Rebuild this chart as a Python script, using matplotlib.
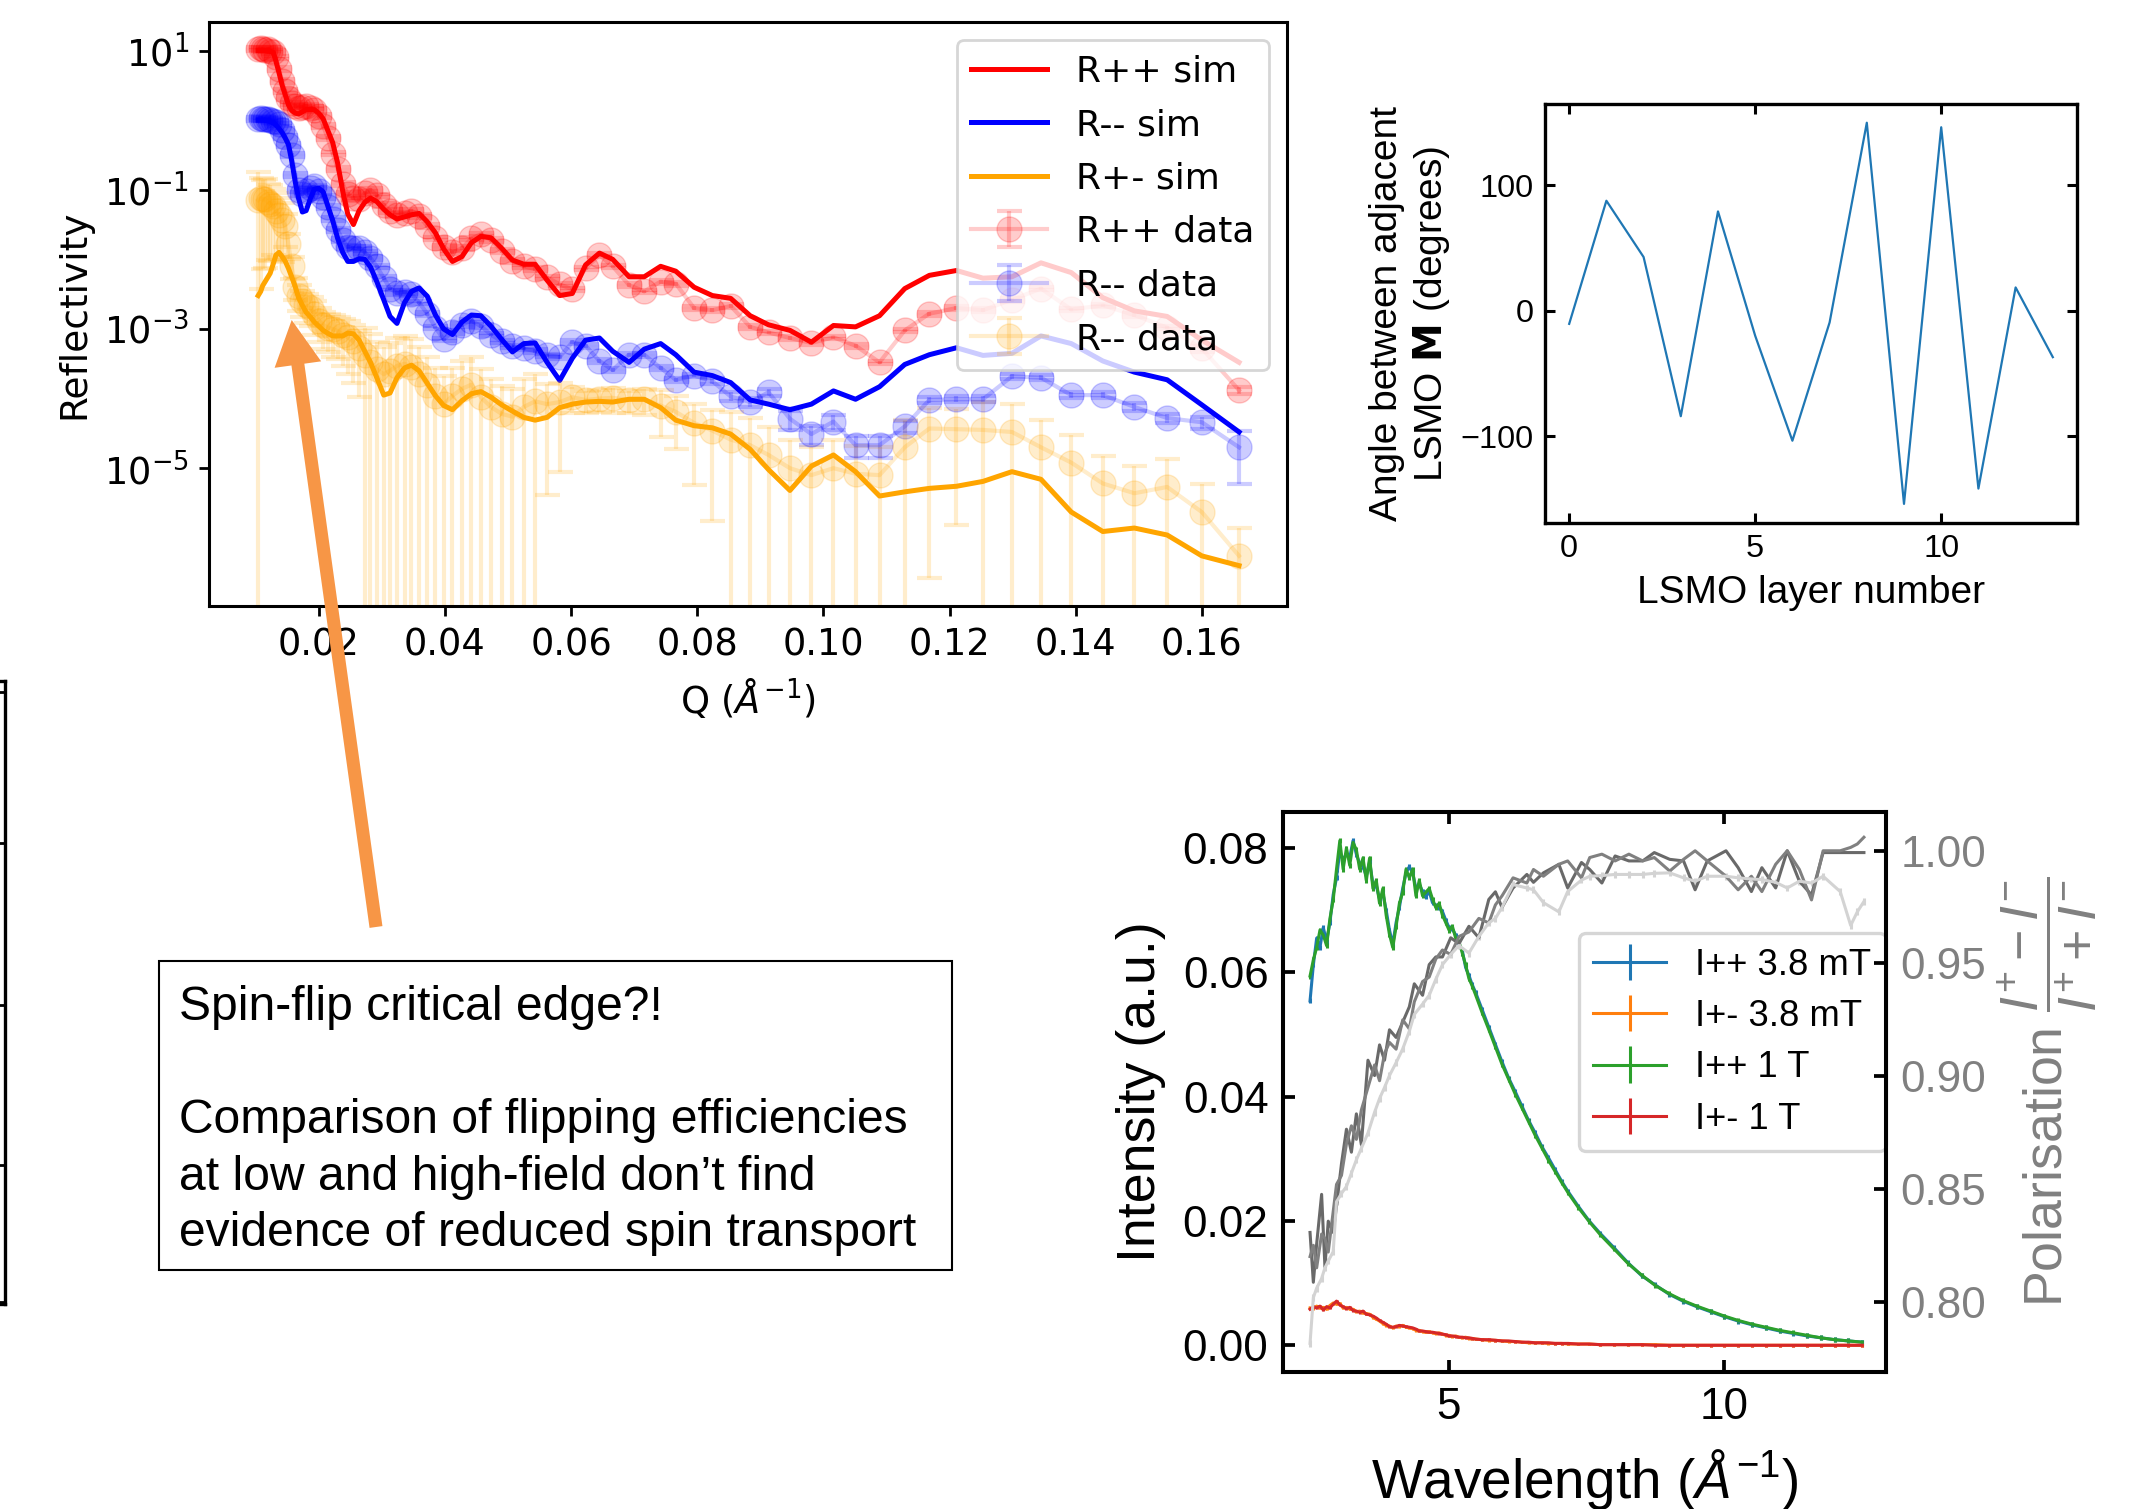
import numpy as np
import matplotlib
matplotlib.use('Agg')
import matplotlib.pyplot as plt
from matplotlib.patches import FancyArrow, Rectangle
from matplotlib.ticker import NullLocator

plt.rcParams['font.family'] = ['Liberation Sans', 'DejaVu Sans']
plt.rcParams['mathtext.fontset'] = 'dejavusans'
plt.rcParams['mathtext.rm'] = 'Liberation Sans'
plt.rcParams['mathtext.it'] = 'Liberation Sans:italic'
plt.rcParams['mathtext.bf'] = 'Liberation Sans:bold'

# ---- reflectivity panel (values are log10 R) ----
q = [0.0104, 0.0108, 0.0111, 0.0115, 0.0119, 0.0123, 0.0128, 0.0132, 0.0137, 0.0142,
     0.0147, 0.0152, 0.0157, 0.0163, 0.0168, 0.0174, 0.0180, 0.0187, 0.0193, 0.0200,
     0.0207, 0.0214, 0.0222, 0.0230, 0.0238, 0.0246, 0.0255, 0.0264, 0.0273, 0.0282,
     0.0292, 0.0303, 0.0313, 0.0324, 0.0336, 0.0347, 0.0359, 0.0372, 0.0385, 0.0398,
     0.0412, 0.0427, 0.0442, 0.0457, 0.0473, 0.0490, 0.0507, 0.0525, 0.0543, 0.0562,
     0.0582, 0.0602, 0.0623, 0.0645, 0.0666, 0.0692, 0.0716, 0.0742, 0.0766, 0.0795,
     0.0824, 0.0853, 0.0884, 0.0913, 0.0947, 0.0981, 0.1016, 0.1051, 0.1089, 0.1129,
     0.1168, 0.1211, 0.1253, 0.1299, 0.1345, 0.1393, 0.1443, 0.1493, 0.1545, 0.1600,
     0.1659]

rpp_sim = [1.00, 1.00, 1.00, 1.00, 0.99, 0.99, 0.97, 0.85, 0.68, 0.50,
           0.36, 0.22, 0.14, 0.10, 0.09, 0.12, 0.15, 0.15, 0.15, 0.10,
           0.02, -0.14, -0.32, -0.62, -1.02, -1.35, -1.50, -1.30, -1.18, -1.12,
           -1.17, -1.28, -1.36, -1.42, -1.39, -1.36, -1.34, -1.46, -1.62, -1.85,
           -2.03, -1.96, -1.76, -1.67, -1.69, -1.84, -2.01, -2.07, -2.07, -2.30,
           -2.52, -2.49, -2.08, -1.91, -2.00, -2.25, -2.25, -2.10, -2.17, -2.40,
           -2.52, -2.56, -2.81, -2.94, -3.02, -3.19, -2.95, -2.97, -2.81, -2.42,
           -2.23, -2.16, -2.27, -2.25, -2.05, -2.19, -2.55, -2.74, -2.82, -3.16,
           -3.48]

rmm_sim = [0.00, 0.00, 0.00, 0.00, -0.01, -0.02, -0.04, -0.07, -0.12, -0.18,
           -0.26, -0.35, -0.58, -0.90, -1.12, -1.32, -1.30, -1.12, -0.99, -0.98,
           -1.03, -1.22, -1.44, -1.70, -1.90, -2.03, -2.03, -1.99, -2.00, -2.11,
           -2.32, -2.58, -2.82, -2.92, -2.62, -2.46, -2.41, -2.53, -2.80, -3.00,
           -3.08, -2.90, -2.80, -2.81, -2.96, -3.15, -3.33, -3.21, -3.20, -3.48,
           -3.74, -3.42, -3.16, -3.13, -3.32, -3.48, -3.29, -3.21, -3.37, -3.62,
           -3.67, -3.77, -4.02, -4.08, -4.16, -4.08, -3.89, -4.01, -3.83, -3.51,
           -3.37, -3.27, -3.38, -3.35, -3.10, -3.21, -3.46, -3.62, -3.73, -4.09,
           -4.48]

rpm_sim = [-2.52, -2.46, -2.38, -2.32, -2.26, -2.20, -2.06, -1.94, -1.90, -1.96,
           -2.03, -2.13, -2.25, -2.40, -2.55, -2.66, -2.76, -2.83, -2.90, -2.96,
           -3.02, -3.06, -3.10, -3.10, -3.10, -3.06, -3.07, -3.16, -3.32, -3.48,
           -3.70, -3.95, -3.92, -3.70, -3.56, -3.52, -3.60, -3.78, -3.96, -4.10,
           -4.16, -4.03, -3.93, -3.90, -3.98, -4.09, -4.18, -4.27, -4.31, -4.27,
           -4.13, -4.08, -4.05, -4.04, -4.05, -4.01, -4.01, -4.13, -4.31, -4.39,
           -4.42, -4.51, -4.73, -5.02, -5.32, -4.97, -4.81, -5.05, -5.40, -5.34,
           -5.29, -5.26, -5.19, -5.05, -5.16, -5.63, -5.91, -5.86, -5.96, -6.26,
           -6.40]

rpp_data = [1.02, 1.03, 1.02, 1.01, 1.02, 1.00, 0.98, 0.90, 0.74, 0.56,
            0.42, 0.32, 0.24, 0.20, 0.18, 0.19, 0.20, 0.18, 0.15, 0.06,
            -0.08, -0.26, -0.48, -0.70, -0.92, -1.06, -1.12, -1.14, -1.05, -1.00,
            -1.08, -1.22, -1.30, -1.36, -1.34, -1.30, -1.38, -1.52, -1.70, -1.82,
            -1.90, -1.84, -1.70, -1.64, -1.72, -1.88, -2.02, -2.10, -2.14, -2.26,
            -2.36, -2.43, -2.13, -1.94, -2.10, -2.37, -2.46, -2.32, -2.35, -2.70,
            -2.73, -2.67, -2.97, -3.05, -3.13, -3.20, -3.12, -3.24, -3.48, -3.02,
            -2.78, -2.70, -2.73, -2.58, -2.42, -2.72, -2.66, -2.80, -2.98, -3.28,
            -3.88]

rmm_data = [0.02, 0.03, 0.02, 0.01, 0.02, 0.00, -0.01, -0.03, -0.06, -0.14,
            -0.24, -0.36, -0.50, -0.79, -1.00, -1.06, -1.02, -0.98, -0.95, -1.02,
            -1.10, -1.25, -1.42, -1.58, -1.72, -1.82, -1.84, -1.83, -1.90, -1.98,
            -2.10, -2.27, -2.42, -2.48, -2.47, -2.50, -2.62, -2.78, -2.98, -3.15,
            -3.04, -2.94, -2.88, -2.96, -3.08, -3.18, -3.25, -3.28, -3.32, -3.38,
            -3.40, -3.19, -3.24, -3.46, -3.59, -3.37, -3.37, -3.56, -3.73, -3.67,
            -3.75, -3.97, -4.05, -3.91, -4.29, -4.51, -4.33, -4.67, -4.67, -4.40,
            -4.02, -4.01, -4.01, -3.68, -3.70, -3.95, -3.95, -4.12, -4.28, -4.34,
            -4.70]

rpm_data = [-1.15, -1.12, -1.14, -1.13, -1.18, -1.20, -1.24, -1.30, -1.36, -1.44,
            -1.52, -1.78, -2.10, -2.40, -2.52, -2.60, -2.66, -2.70, -2.78, -2.88,
            -2.94, -2.98, -3.00, -3.03, -3.08, -3.12, -3.18, -3.28, -3.38, -3.47,
            -3.58, -3.65, -3.60, -3.53, -3.50, -3.54, -3.65, -3.80, -3.96, -4.08,
            -3.96, -3.86, -3.80, -3.98, -4.12, -4.22, -4.26, -4.12, -4.04, -4.08,
            -4.05, -3.98, -4.02, -4.00, -3.99, -4.02, -4.01, -4.10, -4.19, -4.35,
            -4.46, -4.59, -4.67, -4.81, -5.00, -5.10, -5.00, -5.08, -5.10, -4.70,
            -4.43, -4.44, -4.45, -4.48, -4.70, -4.92, -5.22, -5.36, -5.27, -5.63,
            -6.26]

# relative errors (dR / R)
rpp_err = [0.06] * 79 + [0.10, 0.12]
rmm_err = [0.06] * 60 + [0.10, 0.15, 0.15, 0.12, 0.30, 0.30, 0.25, 0.35, 0.35, 0.20,
                         0.10, 0.10, 0.10, 0.08, 0.08, 0.10, 0.10, 0.12, 0.15, 0.20,
                         0.70]
rpm_err = [1.5, 0.95, 0.9, 0.9, 0.85, 0.85, 0.8, 0.8, 0.75, 0.75,
           0.5, 0.4, 0.35, 0.35, 0.4, 0.4, 0.45, 0.45, 0.5, 0.5,
           0.55, 0.55, 0.6, 0.6, 0.65, 0.7, 0.75, 0.8, 1.5, 1.5,
           1.5, 1.5, 1.5, 1.5, 1.5, 1.5, 1.5, 1.5, 1.5, 1.5,
           1.5, 1.5, 1.5, 1.5, 1.5, 1.5, 1.5, 1.5, 1.5, 0.95,
           0.9, 0.4, 0.35, 0.35, 0.4, 0.35, 0.4, 0.65, 0.71, 0.87,
           0.95, 1.5, 1.5, 1.5, 1.5, 1.5, 1.5, 1.5, 1.5, 1.5,
           0.993, 0.958, 1.5, 1.5, 1.5, 1.5, 1.5, 1.5, 1.5, 1.5,
           1.5]

# ---- angle panel ----
layer = [0, 1, 2, 3, 4, 5, 6, 7, 8, 9, 10, 11, 12, 13]
angle = [-10.5, 87.5, 42.7, -84.0, 79.0, -20.0, -103.5, -9.4, 149.6, -153.8,
         146.0, -141.6, 18.5, -37.0]

# ---- intensity / polarisation panel ----
lam = [2.49, 2.55, 2.61, 2.67, 2.73, 2.79, 2.85, 2.91, 2.97, 3.03,
       3.09, 3.15, 3.21, 3.27, 3.33, 3.39, 3.45, 3.51, 3.57, 3.63,
       3.69, 3.75, 3.81, 3.87, 3.93, 3.99, 4.05, 4.11, 4.17, 4.23,
       4.29, 4.35, 4.41, 4.47, 4.53, 4.59, 4.65, 4.71, 4.77, 4.83,
       4.89, 4.95, 5.01, 5.07, 5.13, 5.19, 5.25, 5.31, 5.37, 5.43,
       5.49, 5.61, 5.73, 5.85, 5.97, 6.09, 6.21, 6.33, 6.45, 6.57,
       6.69, 6.81, 6.93, 7.05, 7.17, 7.35, 7.55, 7.75, 8.00, 8.25,
       8.50, 8.75, 9.00, 9.25, 9.50, 9.75, 10.00, 10.25, 10.50, 10.75,
       11.00, 11.25, 11.50, 11.75, 12.00, 12.25, 12.50]

ipp_low = [0.0554, 0.0612, 0.0655, 0.0640, 0.0672, 0.0650, 0.0680, 0.0725, 0.0752, 0.0795,
           0.0780, 0.0792, 0.0785, 0.0812, 0.0790, 0.0775, 0.0770, 0.0755, 0.0778, 0.0742,
           0.0740, 0.0718, 0.0728, 0.0700, 0.0668, 0.0645, 0.0680, 0.0705, 0.0735, 0.0760,
           0.0770, 0.0760, 0.0735, 0.0742, 0.0730, 0.0722, 0.0730, 0.0712, 0.0708, 0.0705,
           0.0698, 0.0684, 0.0672, 0.0670, 0.0660, 0.0645, 0.0635, 0.0608, 0.0595, 0.0580,
           0.0568, 0.0540, 0.0512, 0.0484, 0.0456, 0.0430, 0.0408, 0.0385, 0.0362, 0.0342,
           0.0320, 0.0302, 0.0283, 0.0264, 0.0247, 0.0224, 0.0200, 0.0180, 0.0157, 0.0133,
           0.0112, 0.0097, 0.0082, 0.0071, 0.0062, 0.0054, 0.0046, 0.0039, 0.0033, 0.0028,
           0.0023, 0.0019, 0.0015, 0.0012, 0.0009, 0.0007, 0.0005]

ipm_low = [0.0060, 0.0059, 0.0063, 0.0060, 0.0061, 0.0058, 0.0064, 0.0068, 0.0066, 0.0067,
           0.0060, 0.0061, 0.0058, 0.0058, 0.0054, 0.0055, 0.0052, 0.0051, 0.0050, 0.0045,
           0.0042, 0.0039, 0.0035, 0.0032, 0.0031, 0.0028, 0.0031, 0.0030, 0.0032, 0.0029,
           0.0028, 0.0027, 0.0024, 0.0024, 0.0022, 0.0021, 0.0022, 0.0020, 0.0019, 0.0020,
           0.0018, 0.0016, 0.0016, 0.0014, 0.0015, 0.0013, 0.0012, 0.0013, 0.0011, 0.0011,
           0.0010, 0.0009, 0.0008, 0.0008, 0.0007, 0.0006, 0.0006, 0.0005, 0.0004, 0.0004,
           0.0004, 0.0003, 0.0003, 0.0003, 0.0002, 0.0002, 0.0002, 0.0001, 0.0001, 0.0001,
           0.0001, 0.0001, 0.0000, 0.0000, 0.0000, 0.0000, 0.0000, 0.0000, 0.0000, 0.0000,
           0.0000, 0.0000, 0.0000, 0.0000, 0.0000, 0.0000, 0.0000]

ipp_high = [0.0594, 0.0620, 0.0640, 0.0668, 0.0660, 0.0643, 0.0686, 0.0717, 0.0766, 0.0812,
            0.0766, 0.0800, 0.0772, 0.0809, 0.0797, 0.0766, 0.0784, 0.0748, 0.0784, 0.0735,
            0.0748, 0.0711, 0.0735, 0.0692, 0.0661, 0.0640, 0.0674, 0.0711, 0.0729, 0.0766,
            0.0752, 0.0766, 0.0723, 0.0748, 0.0723, 0.0729, 0.0735, 0.0718, 0.0704, 0.0711,
            0.0692, 0.0680, 0.0668, 0.0674, 0.0655, 0.0649, 0.0631, 0.0612, 0.0590, 0.0578,
            0.0564, 0.0535, 0.0508, 0.0480, 0.0452, 0.0428, 0.0404, 0.0382, 0.0360, 0.0338,
            0.0318, 0.0298, 0.0280, 0.0262, 0.0245, 0.0222, 0.0199, 0.0178, 0.0155, 0.0132,
            0.0113, 0.0096, 0.0083, 0.0072, 0.0063, 0.0055, 0.0047, 0.0040, 0.0034, 0.0029,
            0.0024, 0.0020, 0.0016, 0.0012, 0.0009, 0.0007, 0.0005]

ipm_high = [0.0058, 0.0062, 0.0060, 0.0063, 0.0057, 0.0062, 0.0060, 0.0066, 0.0071, 0.0065,
            0.0062, 0.0059, 0.0061, 0.0056, 0.0055, 0.0053, 0.0055, 0.0050, 0.0049, 0.0047,
            0.0044, 0.0040, 0.0037, 0.0034, 0.0030, 0.0029, 0.0030, 0.0032, 0.0031, 0.0030,
            0.0029, 0.0028, 0.0026, 0.0023, 0.0023, 0.0022, 0.0021, 0.0021, 0.0020, 0.0019,
            0.0018, 0.0017, 0.0015, 0.0015, 0.0014, 0.0013, 0.0013, 0.0012, 0.0012, 0.0011,
            0.0010, 0.0009, 0.0009, 0.0008, 0.0007, 0.0007, 0.0006, 0.0005, 0.0005, 0.0004,
            0.0004, 0.0004, 0.0003, 0.0003, 0.0003, 0.0002, 0.0002, 0.0001, 0.0001, 0.0001,
            0.0001, 0.0000, 0.0000, 0.0000, 0.0000, 0.0000, 0.0000, 0.0000, 0.0000, 0.0000,
            0.0000, 0.0000, 0.0000, 0.0000, 0.0000, 0.0000, 0.0000]

lam_pol = [2.49, 2.55, 2.61, 2.70, 2.76, 2.82, 2.91, 2.97, 3.06, 3.15,
           3.24, 3.33, 3.42, 3.54, 3.66, 3.75, 3.84, 3.93, 4.05, 4.17,
           4.29, 4.38, 4.53, 4.65, 4.77, 4.89, 5.04, 5.19, 5.37, 5.55,
           5.73, 5.85, 5.97, 6.17, 6.42, 6.54, 6.72, 7.00, 7.16, 7.41,
           7.56, 7.78, 8.02, 8.27, 8.52, 8.73, 9.01, 9.26, 9.47, 9.69,
           10.03, 10.25, 10.49, 10.68, 10.93, 11.14, 11.36, 11.58, 11.79, 12.10,
           12.29, 12.41, 12.53]

pol_a = [0.8307, 0.8086, 0.8256, 0.8476, 0.8154, 0.8357, 0.8307, 0.8425, 0.8612, 0.8765,
         0.8663, 0.8833, 0.8697, 0.9071, 0.9003, 0.9139, 0.9071, 0.9206, 0.9172, 0.9240,
         0.9308, 0.9410, 0.9359, 0.9495, 0.9529, 0.9529, 0.9614, 0.9588, 0.9665, 0.9614,
         0.9784, 0.9818, 0.9749, 0.9835, 0.9895, 0.9860, 0.9902, 0.9940, 0.9835, 0.9948,
         0.9917, 0.9857, 0.9977, 0.9955, 0.9955, 0.9992, 0.9962, 0.9955, 0.9827, 0.9955,
         1.0000, 0.9925, 0.9819, 0.9925, 0.9835, 1.0000, 0.9865, 0.9804, 0.9992, 0.9992,
         0.9992, 0.9992, 0.9992]

pol_b = [0.8200, 0.8250, 0.8150, 0.8300, 0.8280, 0.8220, 0.8400, 0.8520, 0.8560, 0.8700,
         0.8780, 0.8720, 0.8850, 0.8950, 0.9050, 0.8980, 0.9100, 0.9150, 0.9120, 0.9250,
         0.9210, 0.9330, 0.9420, 0.9440, 0.9520, 0.9560, 0.9540, 0.9620, 0.9640, 0.9700,
         0.9680, 0.9760, 0.9800, 0.9880, 0.9857, 0.9917, 0.9887, 0.9940, 0.9955, 0.9880,
         0.9970, 0.9985, 0.9955, 0.9985, 0.9955, 0.9970, 0.9910, 0.9962, 1.0000, 0.9955,
         0.9887, 0.9827, 0.9887, 0.9819, 0.9940, 1.0000, 0.9917, 0.9782, 1.0000, 1.0000,
         1.0015, 1.0030, 1.0060]

pol_c = [0.7815, 0.8018, 0.8060, 0.8103, 0.8150, 0.8180, 0.8222, 0.8443, 0.8480, 0.8511,
         0.8570, 0.8629, 0.8680, 0.8748, 0.8840, 0.8901, 0.8950, 0.9003, 0.9060, 0.9121,
         0.9200, 0.9274, 0.9320, 0.9359, 0.9430, 0.9495, 0.9540, 0.9580, 0.9546, 0.9620,
         0.9680, 0.9700, 0.9749, 0.9850, 0.9835, 0.9827, 0.9770, 0.9729, 0.9819, 0.9870,
         0.9887, 0.9890, 0.9895, 0.9895, 0.9895, 0.9900, 0.9902, 0.9880, 0.9865, 0.9887,
         0.9887, 0.9880, 0.9875, 0.9872, 0.9860, 0.9835, 0.9865, 0.9857, 0.9887, 0.9819,
         0.9669, 0.9729, 0.9775]

edge_ticks = [0.003, 0.223, 0.48, 0.74, 0.982]

note = ('Spin-flip critical edge?!\n\n'
        'Comparison of flipping efficiencies\n'
        'at low and high-field don\u2019t find\n'
        'evidence of reduced spin transport')

W, H = 2144, 1509


def box(l, t, r, b):
    # pixel box measured from the top-left corner -> figure fraction
    return [l / W, 1 - b / H, (r - l) / W, (b - t) / H]


fig = plt.figure(figsize=(W / 100, H / 100), dpi=100)

# ------------------------------------------------------------ reflectivity
ax1 = fig.add_axes(box(209, 22, 1287, 606))
ax1.plot(q, 10 ** np.array(rpp_sim), color='red', lw=3.6, label='R++ sim')
ax1.plot(q, 10 ** np.array(rmm_sim), color='blue', lw=3.6, label='R-- sim')
ax1.plot(q, 10 ** np.array(rpm_sim), color='orange', lw=3.6, label='R+- sim')
for vals, frac, c, lab in [(rpp_data, rpp_err, 'red', 'R++ data'),
                           (rmm_data, rmm_err, 'blue', 'R-- data'),
                           (rpm_data, rpm_err, 'orange', 'R-- data')]:
    R = 10 ** np.array(vals)
    ax1.errorbar(q, R, yerr=np.array(frac) * R, fmt='o-', color=c, alpha=0.2,
                 ms=18, lw=3, elinewidth=3, capsize=9, capthick=3, label=lab)
ax1.set_yscale('log')
ax1.set_xlim(0.0026, 0.1735)
ax1.set_ylim(10 ** -6.98, 10 ** 1.41)
ax1.set_yticks([1e1, 1e-1, 1e-3, 1e-5])
ax1.yaxis.set_minor_locator(NullLocator())
ax1.set_xticks([0.02, 0.04, 0.06, 0.08, 0.10, 0.12, 0.14, 0.16])
ax1.tick_params(labelsize=26.5, length=7.5, width=2, pad=7, labelfontfamily='DejaVu Sans')
for s in ax1.spines.values():
    s.set_linewidth(2.2)
ax1.set_xlabel(r'Q ($\AA^{-1}$)', fontsize=26.5, family='DejaVu Sans', labelpad=10)
ax1.set_ylabel('Reflectivity', fontsize=27, family='DejaVu Sans', labelpad=8)
leg1 = ax1.legend(loc='upper right', prop={'family': 'DejaVu Sans', 'size': 26},
                  labelspacing=0.54, handlelength=2.1)
leg1.get_frame().set_linewidth(2)

# ------------------------------------------------------------ angle
ax2 = fig.add_axes(box(1545, 104, 2077, 523))
ax2.plot(layer, angle, color='#1f77b4', lw=1.6)
ax2.set_xlim(-0.65, 13.65)
ax2.set_ylim(-169, 164.5)
ax2.set_xticks([0, 5, 10])
ax2.set_yticks([-100, 0, 100])
ax2.tick_params(direction='in', top=True, right=True, length=7, width=2.2,
                labelsize=23.4, pad=8)
for s in ax2.spines.values():
    s.set_linewidth(2.4)
ax2.set_xlabel('LSMO layer number', fontsize=28, labelpad=8)
ax2.set_ylabel('Angle between adjacent\nLSMO $\\mathbf{M}$ (degrees)', fontsize=28,
               labelpad=6)

# ------------------------------------------------------------ intensity
ax3 = fig.add_axes(box(1283, 812, 1886, 1372))
ax3b = ax3.twinx()
ax3.errorbar(lam, ipp_low, yerr=0.0004, color='C0', lw=2.2, label='I++ 3.8 mT')
ax3.errorbar(lam, ipm_low, yerr=0.0002, color='C1', lw=2.2, label='I+- 3.8 mT')
ax3.errorbar(lam, ipp_high, yerr=0.0004, color='C2', lw=2.2, label='I++ 1 T')
ax3.errorbar(lam, ipm_high, yerr=0.0002, color='C3', lw=2.2, label='I+- 1 T')
ax3.set_xlim(2.0, 12.93)
ax3.set_ylim(-0.0043, 0.0858)
ax3.set_xticks([5, 10])
ax3.set_yticks([0.00, 0.02, 0.04, 0.06, 0.08])
ax3.tick_params(direction='in', top=True, length=8.6, width=2.7, labelsize=31.7, pad=10.5)
for s in ax3.spines.values():
    s.set_linewidth(2.9)
ax3.set_xlabel(r'Wavelength ($\AA^{-1}$)', fontsize=39.5, math_fontfamily='custom',
               labelpad=14)
ax3.set_ylabel('Intensity (a.u.)', fontsize=38.7, labelpad=12)
leg3 = ax3.legend(loc='upper right', bbox_to_anchor=(1.0, 0.784), borderaxespad=0,
                  fontsize=26.2, labelspacing=0.45)
leg3.get_frame().set_linewidth(2.4)

ax3b.errorbar(lam_pol, pol_c, yerr=0.0015, color='lightgray', lw=2.2)
ax3b.plot(lam_pol, pol_a, color='dimgray', lw=2.2)
ax3b.plot(lam_pol, pol_b, color='gray', lw=2.2)
ax3b.set_ylim(0.7688, 1.0172)
ax3b.set_yticks([0.80, 0.85, 0.90, 0.95, 1.00])
ax3b.tick_params(direction='in', length=8.6, width=2.7, labelsize=31.7,
                 labelcolor='gray', pad=10.5)
for s in ax3b.spines.values():
    s.set_linewidth(2.9)
ax3b.set_ylabel(r'Polarisation $\dfrac{I^{+}-I^{-}}{I^{+}+I^{-}}$', fontsize=38.7,
                color='gray', math_fontfamily='custom', labelpad=6)

# ------------------------------------------------------------ cropped panel at left edge
axe = fig.add_axes([-0.05, 1 - 1304 / H, 0.05 + 5 / W, 623 / H])
axe.set_ylim(0, 1)
axe.set_xticks([])
axe.set_yticks(edge_ticks)
axe.yaxis.tick_right()
axe.tick_params(direction='in', length=6, width=2, labelright=False)
for s in axe.spines.values():
    s.set_linewidth(2.4)

# ------------------------------------------------------------ arrow and note
ov = fig.add_axes([0, 0, 1, 1], zorder=10)
ov.set_xlim(0, W)
ov.set_ylim(H, 0)
ov.axis('off')
ov.add_patch(FancyArrow(376, 927, 291.7 - 376, 320 - 927, width=13, head_width=47,
                        head_length=45, length_includes_head=True, color='#f79646', lw=0))
ov.add_patch(Rectangle((159, 961), 793, 309, fill=False, lw=1.5, ec='black'))
ov.text(179, 985, note, fontsize=34.6, va='top', ha='left', linespacing=1.33)

fig.savefig('out.png', dpi=100)
